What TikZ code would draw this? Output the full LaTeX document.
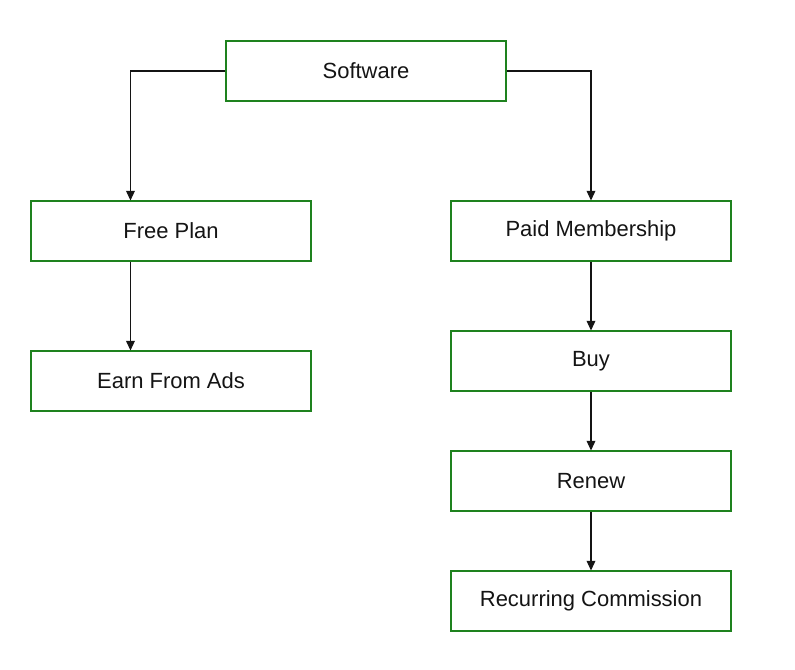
\documentclass[tikz,border=0pt]{standalone}
\usepackage{fontspec}
\setmainfont{Liberation Sans}
\usetikzlibrary{arrows.meta,positioning}
\definecolor{boxgreen}{RGB}{30,130,30}
\definecolor{ink}{RGB}{20,20,20}
\tikzset{
  >={Triangle[length=5.5pt,width=5pt]},
  plan/.style={draw=boxgreen,line width=0.6pt,minimum width=5.6cm,minimum height=1.2cm,
    inner sep=0pt,align=center,font=\fontsize{12.5}{14}\selectfont,text=ink},
  flow/.style={->,line width=0.6pt,draw=ink},
}
\begin{document}
\begin{tikzpicture}
  \useasboundingbox (0,0) rectangle (15.9,-13.4);
  % top level
  \node[plan] (soft) at (7.32,-1.42) {Software};
  % free side
  \node[plan] (free) at (3.42,-4.62) {Free Plan};
  \node[plan] (ads) at (3.42,-7.62) {Earn From Ads};
  % paid side
  \node[plan] (paid) at (11.82,-4.62) {Paid Membership};
  \node[plan] (buy) at (11.82,-7.22) {Buy};
  \node[plan] (renew) at (11.82,-9.62) {Renew};
  \node[plan] (rec) at (11.82,-12.02) {Recurring Commission};
  % connectors
  \draw[flow] (soft.west) -| ([xshift=2cm]free.north west);
  \draw[flow] (soft.east) -| (paid.north);
  \draw[flow] ([xshift=2cm]free.south west) -- ([xshift=2cm]ads.north west);
  \draw[flow] (paid) -- (buy);
  \draw[flow] (buy) -- (renew);
  \draw[flow] (renew) -- (rec);
\end{tikzpicture}
\end{document}
